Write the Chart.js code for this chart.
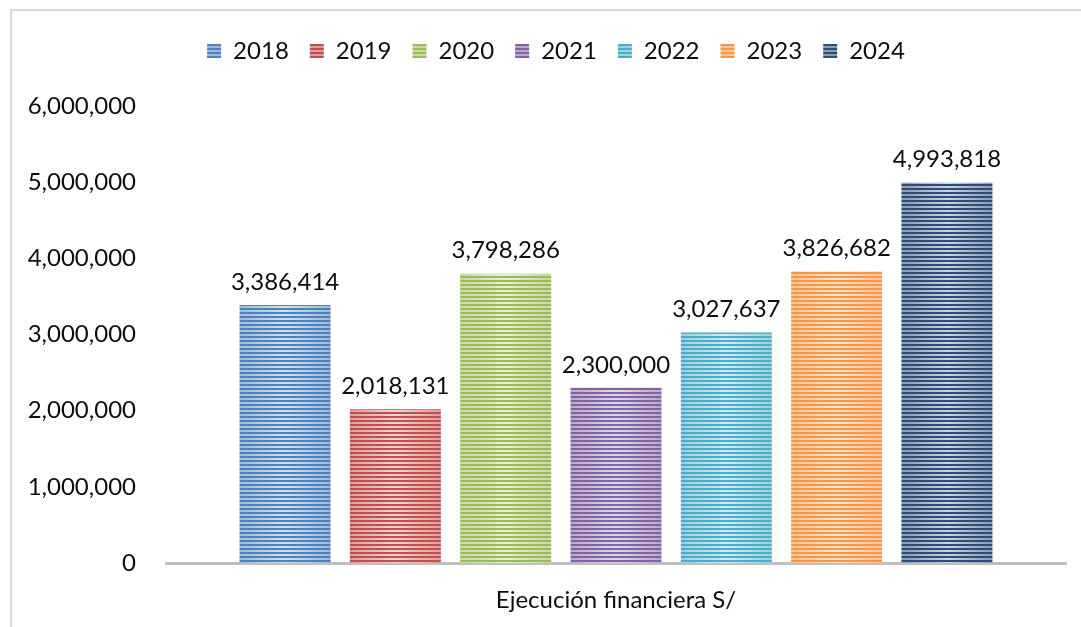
<!DOCTYPE html>
<html>
<head>
<meta charset="utf-8">
<script src="https://cdn.jsdelivr.net/npm/chart.js@4"></script>
<style>
  body { margin: 0; background: #fff; overflow: hidden; }
  #frame { position: absolute; left: 10px; top: 9px; width: 1200px; height: 800px;
           border-left: 2px solid #d9d9d9; border-top: 2px solid #d9d9d9; }
  #wrap { position: absolute; left: 0; top: 0; width: 1081px; height: 627px; }
</style>
</head>
<body>
<div id="frame"></div>
<div id="wrap"><canvas id="chart" width="1081" height="627"></canvas></div>
<script>
const categories = ["Ejecución financiera S/"];
const years = ["2018", "2019", "2020", "2021", "2022", "2023", "2024"];
const values = [3386414, 2018131, 3798286, 2300000, 3027637, 3826682, 4993818];
const colors = ["#4f81bd", "#c0504d", "#9bbb59", "#8064a2", "#4bacc6", "#f79646", "#2c4d75"];

const FONT = "Lato, 'Open Sans', sans-serif";
const FONT_SIZE = 24;

function fmt(v) {
  return Number(v).toLocaleString("en-US");
}

function lighten(hex, amt) {
  const n = parseInt(hex.slice(1), 16);
  const r = (n >> 16) & 255, g = (n >> 8) & 255, b = n & 255;
  const mix = (c) => Math.round(c + (255 - c) * amt);
  return "rgb(" + mix(r) + "," + mix(g) + "," + mix(b) + ")";
}

// horizontal stripes, used for bars and legend boxes
function stripePattern(color) {
  const c = document.createElement("canvas");
  c.width = 1;
  c.height = 4;
  const g = c.getContext("2d");
  g.fillStyle = color;
  g.fillRect(0, 0, 1, 2);
  g.fillStyle = lighten(color, 0.45);
  g.fillRect(0, 2, 1, 2);
  return g.createPattern(c, "repeat");
}

// soft highlight across the light stripes, like the office fill
const shinePlugin = {
  id: "shine",
  afterDatasetsDraw(chart) {
    const ctx = chart.ctx;
    chart.data.datasets.forEach((ds, i) => {
      const meta = chart.getDatasetMeta(i);
      meta.data.forEach((el) => {
        const p = el.getProps(["x", "y", "base", "width"], true);
        const left = p.x - p.width / 2;
        const grad = ctx.createLinearGradient(left, 0, left + p.width, 0);
        grad.addColorStop(0, "rgba(255,255,255,0)");
        grad.addColorStop(0.5, "rgba(255,255,255,0.55)");
        grad.addColorStop(1, "rgba(255,255,255,0)");
        ctx.save();
        ctx.beginPath();
        ctx.rect(left, p.y, p.width, p.base - p.y);
        ctx.clip();
        ctx.fillStyle = grad;
        for (let yy = 2; yy < chart.height; yy += 4) {
          ctx.fillRect(left, yy, p.width, 2);
        }
        ctx.restore();
      });
    });
  },
};

const valueLabels = {
  id: "valueLabels",
  afterDatasetsDraw(chart) {
    const ctx = chart.ctx;
    ctx.save();
    ctx.font = FONT_SIZE + "px " + FONT;
    ctx.fillStyle = "#0d0d0d";
    ctx.textAlign = "center";
    ctx.textBaseline = "middle";
    chart.data.datasets.forEach((ds, i) => {
      const meta = chart.getDatasetMeta(i);
      meta.data.forEach((el, j) => {
        ctx.fillText(fmt(ds.data[j]), el.x, el.y - 23);
      });
    });
    ctx.restore();
  },
};

// more room between the legend and the plot, and centre the legend over the plot
const legendGap = {
  id: "legendGap",
  beforeInit(chart) {
    const fit = chart.legend.fit;
    chart.legend.fit = function () {
      fit.call(this);
      this.height += 33;
    };
  },
  afterLayout(chart) {
    chart.legend.left = 46;
  },
};

const datasets = years.map((y, i) => ({
  label: y,
  data: [values[i]],
  backgroundColor: stripePattern(colors[i]),
  borderWidth: 0,
  categoryPercentage: 0.858,
  barPercentage: 0.825,
}));

new Chart(document.getElementById("chart"), {
  type: "bar",
  data: { labels: categories, datasets: datasets },
  options: {
    responsive: false,
    devicePixelRatio: 1,
    animation: false,
    layout: { padding: { left: 0, right: 15, top: 18, bottom: 0 } },
    plugins: {
      legend: {
        position: "top",
        labels: {
          font: { family: FONT, size: FONT_SIZE },
          color: "#0d0d0d",
          boxWidth: 14,
          boxHeight: 14,
          padding: 21,
        },
      },
      tooltip: { enabled: false },
    },
    scales: {
      x: {
        grid: { display: false },
        border: { display: true, color: "#bfbfbf", width: 3 },
        afterFit(scale) { scale.height = 64; },
        ticks: { font: { family: FONT, size: FONT_SIZE }, color: "#0d0d0d", padding: 15 },
      },
      y: {
        min: 0,
        max: 6000000,
        grid: { display: false },
        border: { display: false },
        afterFit(scale) { scale.width = 166; },
        ticks: {
          stepSize: 1000000,
          padding: 22,
          font: { family: FONT, size: FONT_SIZE },
          color: "#0d0d0d",
          callback: (v) => fmt(v),
        },
      },
    },
  },
  plugins: [shinePlugin, valueLabels, legendGap],
});
</script>
</body>
</html>
